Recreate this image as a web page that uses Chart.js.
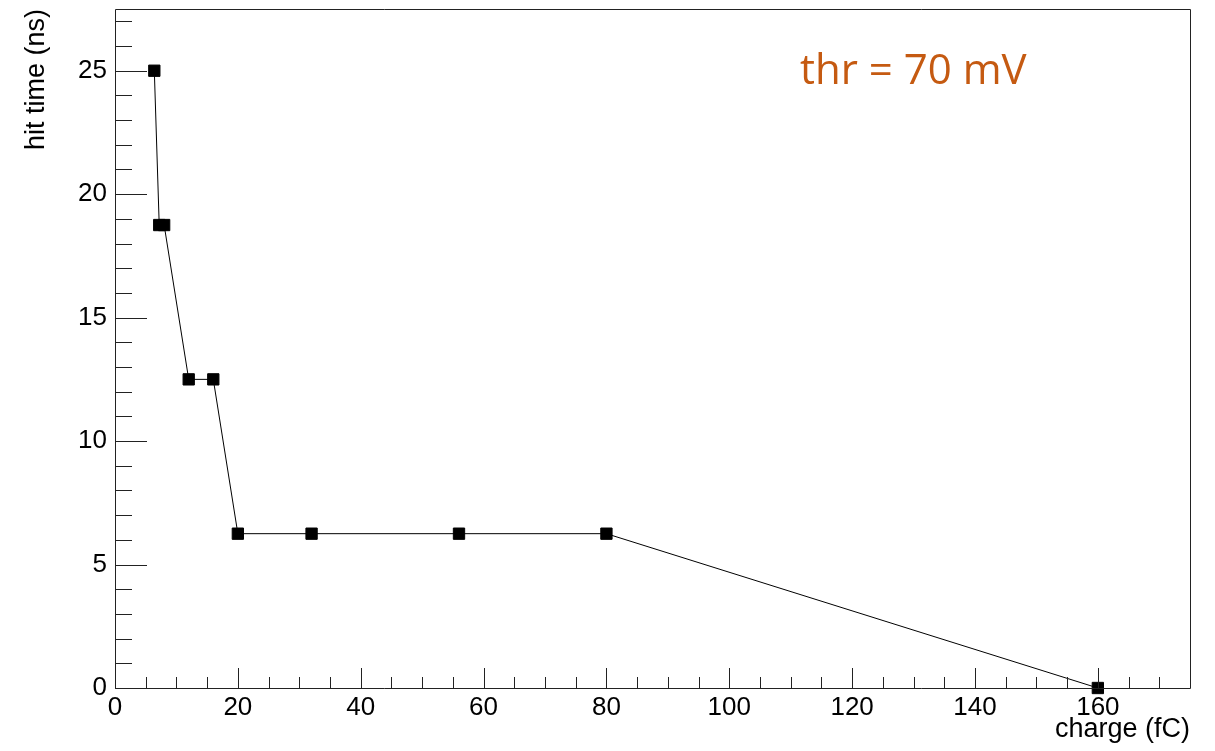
<!DOCTYPE html>
<html>
<head>
<meta charset="utf-8">
<script src="https://cdn.jsdelivr.net/npm/chart.js@4/dist/chart.umd.min.js"></script>
<style>
  html, body { margin: 0; padding: 0; background: #fff; }
  #wrap { width: 1215px; height: 751px; }
</style>
</head>
<body>
<div id="wrap"><canvas id="chart" width="1215" height="751"></canvas></div>
<script>
// ==================== DATOS ====================
const chargeFC = [6.4, 7.2, 8.0, 12, 16, 20, 32, 56, 80, 160];
const hitTimeNs = [25, 18.75, 18.75, 12.5, 12.5, 6.25, 6.25, 6.25, 6.25, 0];
const xTicksMajor = [0, 20, 40, 60, 80, 100, 120, 140, 160];
const yTicksMajor = [0, 5, 10, 15, 20, 25];
const annotationText = 'thr = 70 mV';

const FONT = 'Liberation Sans, Arial, Helvetica, sans-serif';

// ticks hacia dentro, estilo ROOT
const rootFrame = {
    id: 'rootFrame',
    afterDraw(chart) {
        const { ctx, chartArea: a, scales: { x, y } } = chart;
        ctx.save();
        ctx.strokeStyle = '#222';
        ctx.lineWidth = 1;
        ctx.beginPath();
        ctx.rect(a.left + 0.5, a.top + 0.5, a.right - a.left, a.bottom - a.top);
        ctx.stroke();

        ctx.beginPath();
        for (let v = 0; v <= x.max; v += 5) {
            const px = Math.round(x.getPixelForValue(v)) + 0.5;
            const len = v % 20 === 0 ? 20 : 11;
            ctx.moveTo(px, a.bottom);
            ctx.lineTo(px, a.bottom - len);
        }
        for (let v = 0; v <= y.max; v += 1) {
            const py = Math.round(y.getPixelForValue(v)) + 0.5;
            const len = v % 5 === 0 ? 32 : 17;
            ctx.moveTo(a.left, py);
            ctx.lineTo(a.left + len, py);
        }
        ctx.stroke();

        ctx.fillStyle = '#C55A11';
        ctx.font = '42px "Open Sans", sans-serif';
        ctx.textBaseline = 'alphabetic';
        ctx.textAlign = 'left';
        ctx.fillText(annotationText, 800, 84);
        ctx.restore();
    }
};

const ctx = document.getElementById('chart').getContext('2d');

const chart = new Chart(ctx, {
    type: 'line',
    data: {
        datasets: [{
            data: chargeFC.map((c, i) => ({ x: c, y: hitTimeNs[i] })),
            borderColor: '#000',
            backgroundColor: '#000',
            borderWidth: 1,
            pointStyle: 'rect',
            pointRadius: 8,
            pointBorderWidth: 1,
            tension: 0,
            clip: false,
            fill: false
        }]
    },
    options: {
        animation: false,
        responsive: false,
        devicePixelRatio: 1,
        layout: { padding: { top: 7, right: 25, left: 0, bottom: 0 } },
        plugins: {
            legend: { display: false },
            tooltip: { enabled: false }
        },
        scales: {
            x: {
                type: 'linear',
                min: 0,
                max: 175,
                afterFit: (s) => { s.height = 63; s.paddingLeft = 0; s.paddingRight = 0; },
                afterBuildTicks: (s) => { s.ticks = xTicksMajor.map(v => ({ value: v })); },
                grid: { display: false, drawTicks: false },
                border: { display: false },
                ticks: {
                    padding: 4,
                    color: '#000',
                    font: { family: FONT, size: 26 },
                    maxRotation: 0,
                    autoSkip: false
                },
                title: {
                    display: true,
                    text: 'charge (fC)',
                    align: 'end',
                    color: '#000',
                    font: { family: FONT, size: 27 },
                    padding: { top: 0, bottom: 5 }
                }
            },
            y: {
                type: 'linear',
                min: 0,
                max: 27.5,
                afterFit: (s) => { s.width = 115; s.paddingTop = 0; s.paddingBottom = 0; },
                afterBuildTicks: (s) => { s.ticks = yTicksMajor.map(v => ({ value: v })); },
                grid: { display: false, drawTicks: false },
                border: { display: false },
                ticks: {
                    padding: 8,
                    color: '#000',
                    font: { family: FONT, size: 26 },
                    autoSkip: false
                },
                title: {
                    display: true,
                    text: 'hit time (ns)',
                    align: 'end',
                    color: '#000',
                    font: { family: FONT, size: 27 },
                    padding: { top: 20, bottom: 0 }
                }
            }
        }
    },
    plugins: [rootFrame]
});
</script>
</body>
</html>
